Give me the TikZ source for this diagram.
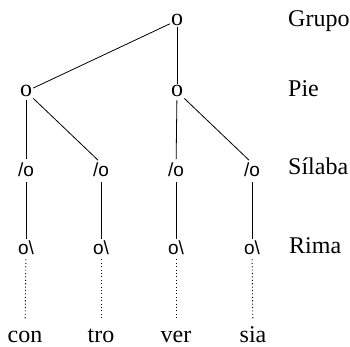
\documentclass[tikz,border=0pt]{standalone}
\usepackage{fontspec}
\setmainfont{Liberation Serif}
\newfontfamily\treesans{Liberation Sans}
\begin{document}
\begin{tikzpicture}[x=1pt,y=-1pt,
  every node/.style={font=\fontsize{24}{28}\selectfont, inner sep=1pt},
  tnode/.style={anchor=base},
  snode/.style={anchor=base, inner sep=0pt, font=\fontsize{19}{23}\selectfont\treesans},
  lab/.style={anchor=base west, inner sep=0pt},
  word/.style={anchor=base, inner sep=0pt, text height=15pt},
  edge/.style={line width=0.8pt},
  dots/.style={line width=0.9pt, dash pattern=on 1.1pt off 2.3pt}]
\useasboundingbox (0,0) rectangle (350,347);
% tree nodes
\node[tnode] (g) at (177,26) {o};
\node[tnode] (p1) at (26,97) {o};
\node[tnode] (p2) at (177,97) {o};
\node[snode] (s1) at (26,177) {/o};
\node[snode] (s2) at (101,177) {/o};
\node[snode] (s3) at (176,177) {/o};
\node[snode] (s4) at (252,177) {/o};
\node[snode] (r1) at (26,254) {o\textbackslash};
\node[snode] (r2) at (101,254) {o\textbackslash};
\node[snode] (r3) at (176,254) {o\textbackslash};
\node[snode] (r4) at (252,254) {o\textbackslash};
\node[word] (w1) at (25,342) {con};
\node[word] (w2) at (101,342) {tro};
\node[word] (w3) at (176,342) {ver};
\node[word] (w4) at (253,342) {sia};
% level labels
\node[lab] (lg) at (288,27) {Grupo};
\node[lab] (lp) at (288,97) {Pie};
\node[lab] (ls) at (288,175) {Sílaba};
\node[lab] (lr) at (289,253) {Rima};
% connectors
\draw[edge] (g) -- (p1);
\draw[edge] (g) -- (p2);
\draw[edge,shorten <=2pt,shorten >=4pt] (p1) -- (s1);
\draw[edge,shorten >=4pt] (p1) -- (s2.north);
\draw[edge,shorten <=2pt,shorten >=4pt] (p2) -- (s3);
\draw[edge,shorten >=4pt] (p2) -- (s4.north);
\draw[edge,shorten <=5pt,shorten >=1pt] (s1) -- (r1);
\draw[edge,shorten <=5pt,shorten >=1pt] (s2) -- (r2);
\draw[edge,shorten <=5pt,shorten >=1pt] (s3) -- (r3);
\draw[edge,shorten <=5pt,shorten >=1pt] (s4) -- (r4);
\draw[dots,shorten <=5pt,shorten >=8pt] (r1) -- (w1);
\draw[dots,shorten <=5pt,shorten >=8pt] (r2) -- (w2);
\draw[dots,shorten <=5pt,shorten >=8pt] (r3) -- (w3);
\draw[dots,shorten <=5pt,shorten >=8pt] (r4) -- (w4);
\end{tikzpicture}
\end{document}
